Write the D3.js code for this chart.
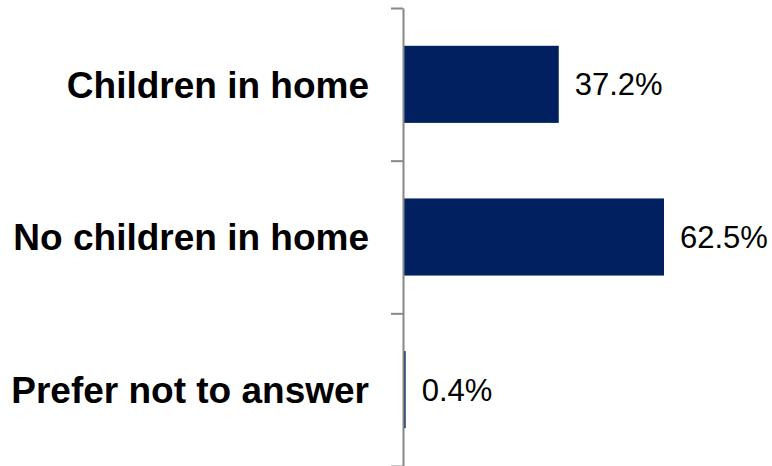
<!DOCTYPE html>
<html>
<head>
<meta charset="utf-8">
<script src="https://cdn.jsdelivr.net/npm/d3@7"></script>
<style>
  html, body { margin: 0; padding: 0; background: #ffffff; }
  svg { display: block; }
</style>
</head>
<body>
<svg id="chart" width="772" height="466"></svg>
<script>
const categories = ["Children in home", "No children in home", "Prefer not to answer"];
const values = [37.2, 62.5, 0.4];
const valueLabels = ["37.2%", "62.5%", "0.4%"];

(function () {
const svg = d3.select("#chart");
const axisX = 403;
const yTop = 8, yBottom = 466;

const y = d3.scaleBand().domain(categories).range([yTop, yBottom]).paddingInner(0.495).paddingOuter(0.2475);
const x = d3.scaleLinear().domain([0, 100]).range([axisX + 1, axisX + 1 + 416]);

// bars
svg.selectAll("rect.bar").data(categories).enter().append("rect")
  .attr("class", "bar")
  .attr("x", x(0))
  .attr("y", d => y(d))
  .attr("width", (d, i) => x(values[i]) - x(0))
  .attr("height", y.bandwidth())
  .attr("fill", "#002060");

// value labels
svg.selectAll("text.val").data(categories).enter().append("text")
  .attr("class", "val")
  .attr("x", (d, i) => x(values[i]) + 16)
  .attr("y", d => y(d) + y.bandwidth() / 2)
  .attr("dy", "0.35em")
  .attr("font-family", "Liberation Sans, Arial, sans-serif")
  .attr("font-size", 31)
  .attr("fill", "#000")
  .text((d, i) => valueLabels[i]);

// category labels
svg.selectAll("text.cat").data(categories).enter().append("text")
  .attr("class", "cat")
  .attr("x", 369)
  .attr("y", d => y(d) + y.bandwidth() / 2)
  .attr("dy", "0.36em")
  .attr("text-anchor", "end")
  .attr("font-family", "Liberation Sans, Arial, sans-serif")
  .attr("font-weight", "bold")
  .attr("font-size", 37)
  .attr("fill", "#000")
  .text(d => d);

// axis with ticks at band boundaries
const boundary = d3.scaleLinear().domain([0, categories.length]).range([yTop, yBottom]);
const axis = d3.axisLeft(boundary).tickValues(d3.range(0, categories.length + 1)).tickFormat("").tickSize(12).tickSizeOuter(0);
const g = svg.append("g").attr("transform", `translate(${axisX},0)`).call(axis);
g.select(".domain").attr("stroke", "#878787").attr("stroke-width", 2);
g.selectAll(".tick line").attr("stroke", "#878787").attr("stroke-width", 2);
})();
</script>
</body>
</html>
